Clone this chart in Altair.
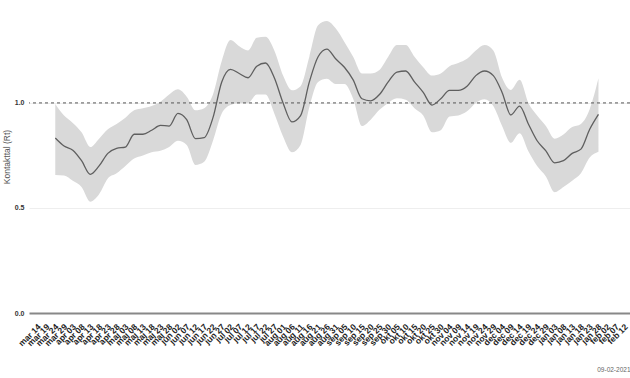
import altair as alt
import pandas as pd

# Daily sample dates (every 5 days) of the Rt estimate
dates = pd.date_range("2020-03-25", periods=63, freq="5D")

rt = [0.833, 0.795, 0.775, 0.725, 0.66, 0.70, 0.76, 0.784, 0.79, 0.851,
      0.851, 0.87, 0.893, 0.89, 0.95, 0.92, 0.83, 0.835, 0.93, 1.10,
      1.16, 1.14, 1.12, 1.175, 1.19, 1.12, 1.0, 0.91, 0.94, 1.10,
      1.22, 1.256, 1.21, 1.17, 1.11, 1.02, 1.01, 1.04, 1.10, 1.147,
      1.152, 1.10, 1.05, 0.99, 1.02, 1.06, 1.06, 1.08, 1.13, 1.152,
      1.13, 1.05, 0.943, 0.985, 0.90, 0.82, 0.772, 0.715, 0.725, 0.76,
      0.78, 0.875, 0.946]

hi = [0.995, 0.94, 0.905, 0.86, 0.79, 0.83, 0.875, 0.90, 0.93, 0.965,
      0.975, 0.985, 1.006, 1.04, 1.065, 1.03, 0.965, 0.975, 1.04, 1.20,
      1.30, 1.27, 1.25, 1.31, 1.315, 1.25, 1.13, 1.06, 1.08, 1.22,
      1.37, 1.39, 1.355, 1.29, 1.22, 1.14, 1.14, 1.157, 1.22, 1.276,
      1.276, 1.22, 1.17, 1.13, 1.14, 1.175, 1.19, 1.21, 1.25, 1.276,
      1.25, 1.12, 1.062, 1.11, 1.00, 0.94, 0.89, 0.83, 0.85, 0.885,
      0.90, 0.97, 1.117]

lo = [0.657, 0.655, 0.63, 0.60, 0.53, 0.565, 0.64, 0.665, 0.70, 0.735,
      0.75, 0.765, 0.772, 0.79, 0.82, 0.80, 0.705, 0.72, 0.82, 0.95,
      0.99, 1.00, 1.00, 1.04, 1.04, 0.95, 0.84, 0.765, 0.80, 0.98,
      1.10, 1.115, 1.09, 1.09, 1.02, 0.89, 0.92, 0.967, 1.00, 1.022,
      1.015, 0.975, 0.94, 0.86, 0.87, 0.935, 0.94, 0.96, 1.00, 1.017,
      0.985, 0.89, 0.81, 0.856, 0.77, 0.70, 0.65, 0.575, 0.60, 0.63,
      0.665, 0.74, 0.768]

tick_dates = pd.date_range("2020-03-14", "2021-02-12", freq="5D")
y_ticks = [0.0, 0.5, 1.0]
ref_level = [1.0]
stamp = "09-02-2021"

df = pd.DataFrame({"dato": dates, "rt": rt, "lo": lo, "hi": hi})

month_names = "['jan','feb','mar','apr','maj','jun','jul','aug','sep','okt','nov','dec']"
x_axis = alt.Axis(
    values=[alt.DateTime(year=d.year, month=d.month, date=d.day) for d in tick_dates],
    labelExpr=month_names + "[month(datum.value)] + ' ' + timeFormat(datum.value, '%d')",
    labelAngle=-45, labelFontSize=8.5, labelFontWeight="bold", labelColor="#222",
    labelFont="Liberation Sans", labelOverlap=False, labelPadding=9,
    domain=True, domainColor="#888888", domainWidth=2,
    ticks=False, grid=False, title=None,
)
x_scale = alt.Scale(domain=[alt.DateTime(year=2020, month=3, date=10),
                            alt.DateTime(year=2021, month=2, date=16)])
y_scale = alt.Scale(domain=[0, 1.49], nice=False, zero=True)
y_axis = alt.Axis(
    values=y_ticks, format=".1f", labelFontSize=7, labelFontWeight="bold",
    labelColor="#333", labelFont="Liberation Sans", labelPadding=5,
    domain=False, ticks=False, grid=True, gridColor="#eeeeee",
    title="Kontakttal (Rt)", titleFontSize=8.5, titleFontWeight="normal",
    titleColor="#555", titleFont="Liberation Sans", titlePadding=3,
)

x_enc = alt.X("dato:T", scale=x_scale, axis=x_axis)

band = alt.Chart(df).mark_area(color="#d9d9d9", interpolate="monotone").encode(
    x=x_enc,
    y=alt.Y("lo:Q", scale=y_scale, axis=y_axis),
    y2="hi:Q",
)
line = alt.Chart(df).mark_line(color="#5f5f5f", strokeWidth=1.3, interpolate="monotone").encode(
    x=x_enc,
    y=alt.Y("rt:Q", scale=y_scale),
)
ref = alt.Chart(pd.DataFrame({"v": ref_level})).mark_rule(
    color="#555555", strokeDash=[3, 3], strokeWidth=1
).encode(y=alt.Y("v:Q", scale=y_scale))

chart = alt.layer(band, ref, line).properties(
    width=601, height=313,
    padding={"left": 29, "top": 0, "right": 0, "bottom": 65},
    autosize=alt.AutoSizeParams(type="none"),
    title=alt.TitleParams(stamp, orient="bottom", anchor="end", fontSize=6.5,
                          fontWeight="normal", color="#666666", font="Liberation Sans",
                          offset=20),
).configure_view(stroke=None)

chart.save("out.html", embed_options={"renderer": "svg", "actions": False})
